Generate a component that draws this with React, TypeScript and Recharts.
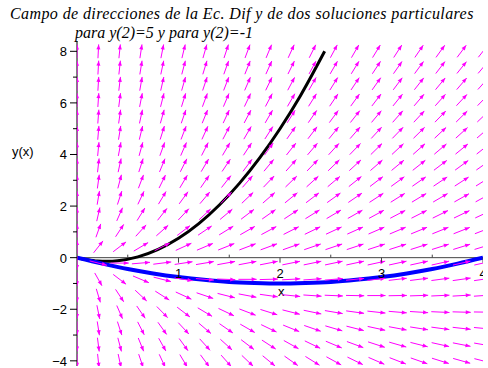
import React from 'react';
import { ComposedChart, Line, Scatter, XAxis, YAxis, ReferenceLine } from 'recharts';

// grid of the direction field (20 x 20, as Maple draws it)
const gridX = [0, 0.21, 0.42, 0.63, 0.84, 1.05, 1.26, 1.47, 1.68, 1.89, 2.11, 2.32, 2.53, 2.74, 2.95, 3.16, 3.37, 3.58, 3.79, 4.0];
const gridY = [-4, -3.37, -2.74, -2.11, -1.47, -0.84, -0.21, 0.42, 1.05, 1.68, 2.32, 2.95, 3.58, 4.21, 4.84, 5.47, 6.11, 6.74, 7.37, 8];

// particular solution with y(2)=5
const blackX = [0, 0.1, 0.2, 0.3, 0.4, 0.6, 0.8, 1.0, 1.2, 1.4, 1.6, 1.8, 2.0, 2.2, 2.44];
const blackY = [0, -0.08, -0.13, -0.14, -0.12, 0.03, 0.32, 0.75, 1.32, 2.03, 2.88, 3.87, 5.0, 6.27, 8.0];

// particular solution with y(2)=-1
const blueX = [0, 0.25, 0.5, 0.75, 1.0, 1.25, 1.5, 1.75, 2.0, 2.25, 2.5, 2.75, 3.0, 3.25, 3.5, 3.75, 4.0];
const blueY = [0, -0.23, -0.44, -0.61, -0.75, -0.86, -0.94, -0.98, -1.0, -0.98, -0.94, -0.86, -0.75, -0.61, -0.44, -0.23, 0];

const xMajor = [1, 2, 3, 4];
const xMinor = [0.5, 1.5, 2.5, 3.5];
const yTicks = [-4, -3, -2, -1, 0, 1, 2, 3, 4, 5, 6, 7, 8];

// dy/dx = 2y/x + 1
const slope = (x: number, y: number) => 2 * y / x + 1;

const field = gridX.flatMap(x => gridY.map(y => ({ x, y })));
const black = blackX.map((x, i) => ({ x, y: blackY[i] }));
const blue = blueX.map((x, i) => ({ x, y: blueY[i] }));
const ticks = [...xMajor.map(x => ({ x, y: 0, major: true })), ...xMinor.map(x => ({ x, y: 0, major: false }))];

const CELL_W = 21.4;
const CELL_H = 16.3;
const DX = 4 / 19;
const DY = 12 / 19;
const AXIS_X = 77;

const Arrow = (props: any) => {
  const { cx, cy, payload } = props;
  let ux: number, vy: number;
  if (payload.x === 0) {
    ux = 0;
    vy = payload.y >= 0 ? 1 : -1;
  } else {
    const u = 1 / DX;
    const v = slope(payload.x, payload.y) / DY;
    const len = Math.hypot(u, v);
    ux = u / len;
    vy = v / len;
  }
  const px = ux * CELL_W * 0.85;
  const py = -vy * CELL_H * 0.85;
  const x1 = cx - px / 2, y1 = cy - py / 2;
  const x2 = cx + px / 2, y2 = cy + py / 2;
  const l = Math.hypot(px, py);
  const dx = px / l, dy = py / l;
  const hx = x2 - dx * 5, hy = y2 - dy * 5;
  const head = `${x2},${y2} ${hx - dy * 2},${hy + dx * 2} ${hx + dy * 2},${hy - dx * 2}`;
  return (
    <g>
      <line x1={x1} y1={y1} x2={x2} y2={y2} stroke="#ff00ff" strokeWidth={1} />
      <polygon points={head} fill="#ff00ff" />
    </g>
  );
};

const XTick = (props: any) => {
  const { cx, cy, payload } = props;
  if (!payload.major) {
    return <line x1={cx} y1={cy} x2={cx} y2={cy - 3} stroke="#444" />;
  }
  return (
    <g>
      <line x1={cx} y1={cy} x2={cx} y2={cy + 5} stroke="#444" />
      <text x={cx} y={cy + 20} textAnchor="middle" fontSize={13} fontFamily="Liberation Sans, Arial" fill="#000">
        {payload.x}
      </text>
    </g>
  );
};

const YTick = (props: any) => {
  const { y, payload } = props;
  const v = payload.value;
  const major = v % 2 === 0;
  return (
    <g>
      <line x1={AXIS_X - (major ? 7 : 4)} y1={y} x2={AXIS_X} y2={y} stroke="#000" />
      {major && (
        <text x={AXIS_X - 10} y={y + 5} textAnchor="end" fontSize={13} fontFamily="Liberation Sans, Arial" fill="#000">
          {v < 0 ? `\u2212${-v}` : v}
        </text>
      )}
    </g>
  );
};

const titleStyle: React.CSSProperties = {
  position: 'absolute',
  fontFamily: 'Liberation Serif, Times New Roman',
  fontStyle: 'italic',
  fontSize: 16,
  whiteSpace: 'nowrap',
};

export default function App() {
  return (
    <div style={{ position: 'absolute', left: 0, top: 0, width: 488, height: 368, background: '#fff' }}>
      <div style={{ ...titleStyle, left: 10, top: 5, letterSpacing: 0.4 }}>
        Campo de direcciones de la Ec. Dif y de dos soluciones particulares
      </div>
      <div style={{ ...titleStyle, left: 75, top: 24 }}>
        para y(2)=5 y para y(2)=-1
      </div>
      <div style={{ position: 'absolute', left: 12, top: 144, fontFamily: 'Liberation Sans, Arial', fontSize: 13 }}>y(x)</div>
      <div style={{ position: 'absolute', left: 278, top: 284, fontFamily: 'Liberation Sans, Arial', fontSize: 13 }}>x</div>
      <ComposedChart width={488} height={368} margin={{ top: 41, right: 5, bottom: 2, left: 0 }} style={{ position: 'absolute', left: 0, top: 0 }}>
        <XAxis type="number" dataKey="x" domain={[0, 4]} allowDataOverflow hide />
        <YAxis
          type="number"
          dataKey="y"
          domain={[-4.2, 8.4]}
          allowDataOverflow
          width={77}
          ticks={yTicks}
          interval={0}
          tickLine={false}
          tick={<YTick />}
          axisLine={{ stroke: '#000' }}
        />
        <Scatter data={field} shape={<Arrow />} isAnimationActive={false} />
        <ReferenceLine y={0} stroke="#444" strokeWidth={1} />
        <Scatter data={ticks} shape={<XTick />} isAnimationActive={false} />
        <Line data={black} dataKey="y" type="monotone" stroke="#000" strokeWidth={3} dot={false} isAnimationActive={false} />
        <Line data={blue} dataKey="y" type="monotone" stroke="#0000ff" strokeWidth={4} dot={false} isAnimationActive={false} />
      </ComposedChart>
    </div>
  );
}
